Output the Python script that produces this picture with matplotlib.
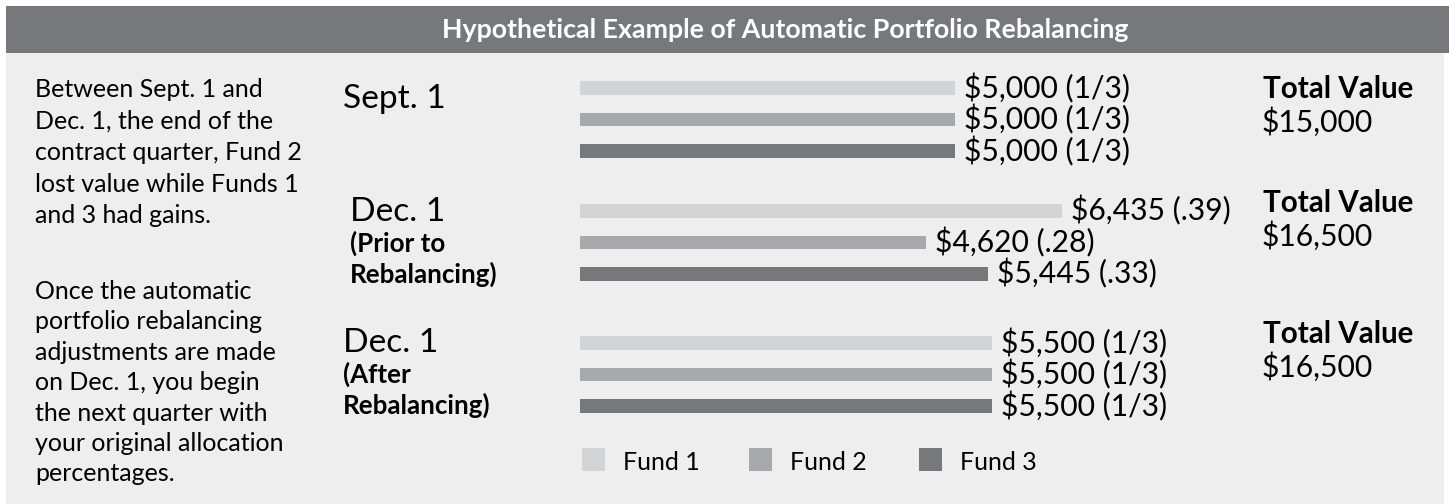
import matplotlib
matplotlib.use("Agg")
import matplotlib.pyplot as plt
from matplotlib.patches import Rectangle

# ---------------- data ----------------
funds = ["Fund 1", "Fund 2", "Fund 3"]
stages = ["Sept. 1", "Dec. 1 prior", "Dec. 1 after"]
sept_values = [5000, 5000, 5000]
prior_values = [6435, 4620, 5445]
after_values = [5500, 5500, 5500]
sept_labels = ["$5,000 (1/3)", "$5,000 (1/3)", "$5,000 (1/3)"]
prior_labels = ["$6,435 (.39)", "$4,620 (.28)", "$5,445 (.33)"]
after_labels = ["$5,500 (1/3)", "$5,500 (1/3)", "$5,500 (1/3)"]
totals = ["$15,000", "$16,500", "$16,500"]
title = "Hypothetical Example of Automatic Portfolio Rebalancing"
para1 = ["Between Sept. 1 and", "Dec. 1, the end of the", "contract quarter, Fund 2",
         "lost value while Funds 1", "and 3 had gains."]
para2 = ["Once the automatic", "portfolio rebalancing", "adjustments are made",
         "on Dec. 1, you begin", "the next quarter with", "your original allocation",
         "percentages."]

# ---------------- style ----------------
W, H = 1449, 504
FONT = "Lato"
plt.rcParams["font.family"] = [FONT, "DejaVu Sans"]
c_bg = "#eeeeee"
c_title = "#77787b"
fund_colors = ["#d3d4d6", "#a8a9ad", "#77787b"]
PT = 0.72  # points per pixel at dpi 100

fig = plt.figure(figsize=(W / 100, H / 100), dpi=100)
fig.patch.set_facecolor("white")

# overlay axes in pixel coordinates (for panel, text)
ov = fig.add_axes([0, 0, 1, 1])
ov.set_xlim(0, W)
ov.set_ylim(H, 0)
ov.axis("off")
ov.add_patch(Rectangle((6, 53), 1438, H - 53, color=c_bg, lw=0, zorder=0))
ov.add_patch(Rectangle((6, 6), W - 6, 47, color=c_title, lw=0, zorder=0))
ov.text(785, 30, title, color="white", fontsize=26.8 * PT, fontweight="bold",
        ha="center", va="center")

# left paragraphs
for i, line in enumerate(para1):
    ov.text(35, 97 + i * 31.5, line, fontsize=25 * PT, va="baseline", ha="left")
for i, line in enumerate(para2):
    ov.text(35, 299 + i * 30.4, line, fontsize=25 * PT, va="baseline", ha="left")

# group labels
grp_lbl = [
    [("Sept. 1", 343, 108, 33.5, "normal")],
    [("Dec. 1", 350, 221, 33.5, "normal"), ("(Prior to", 350, 252, 26, "bold"),
     ("Rebalancing)", 350, 283, 26, "bold")],
    [("Dec. 1", 343, 352, 33.5, "normal"), ("(After", 343, 383, 26, "bold"),
     ("Rebalancing)", 343, 414, 26, "bold")],
]
for g in grp_lbl:
    for (t, x, y, s, w) in g:
        ov.text(x, y, t, fontsize=s * PT, fontweight=w, va="baseline", ha="left")

# total values
tot_y = [98, 212, 343]
for ty, tv in zip(tot_y, totals):
    ov.text(1263, ty, "Total Value", fontsize=29.5 * PT, fontweight="bold", va="baseline")
    ov.text(1262, ty + 34, tv, fontsize=30 * PT, va="baseline")

# ---------------- bars ----------------
px_per_dollar = 0.07494
row_px = 31.5
first_center = 88
x0_px = 580
bx = fig.add_axes([x0_px / W, 0, (W - x0_px) / W, 1])
bx.set_xlim(0, (W - x0_px) / px_per_dollar)
bx.set_ylim((H - first_center) / row_px, -first_center / row_px)
bx.axis("off")
bx.patch.set_alpha(0)

group_pos = [0, 3.9, 8.1]
all_vals = [sept_values, prior_values, after_values]
all_lbls = [sept_labels, prior_labels, after_labels]
for g, (vals, lbls) in enumerate(zip(all_vals, all_lbls)):
    ys = [group_pos[g] + j for j in range(len(funds))]
    bx.barh(ys, vals, height=13.5 / row_px, color=fund_colors, lw=0)
    for y, v, l in zip(ys, vals, lbls):
        bx.annotate(l, xy=(v, y), xytext=(9, 0), textcoords="offset pixels",
                    fontsize=30 * PT, va="center", ha="left")

# ---------------- legend ----------------
leg_x = [582, 749, 919]
for lx, name, col in zip(leg_x, funds, fund_colors):
    ov.add_patch(Rectangle((lx, 448), 23, 23, color=col, lw=0))
    ov.text(lx + 41, 470, name, fontsize=25 * PT, va="baseline", ha="left")

fig.savefig("out.png", dpi=100, facecolor="white")
